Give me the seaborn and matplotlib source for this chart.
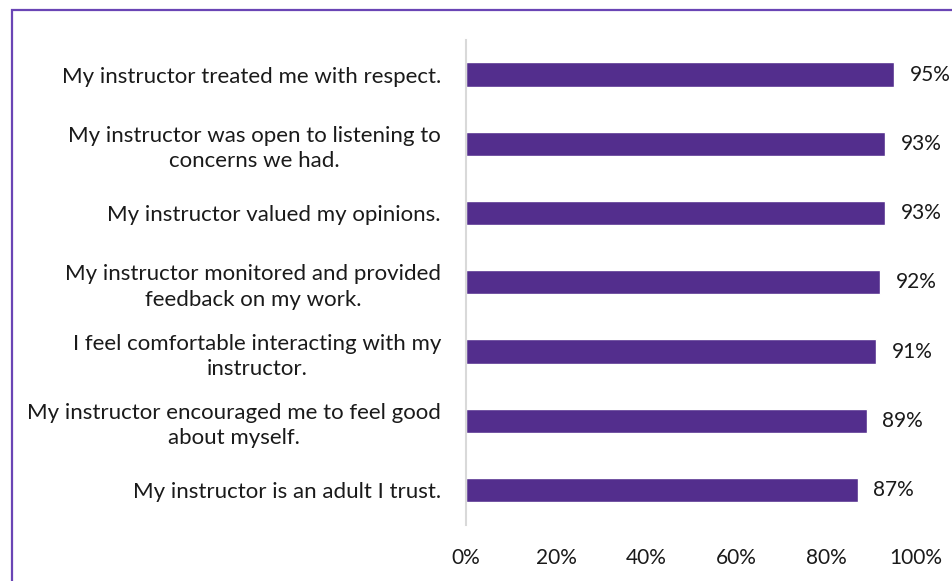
import matplotlib
matplotlib.use("Agg")
import matplotlib.pyplot as plt
import seaborn as sns
import pandas as pd
from matplotlib.patches import Rectangle
from matplotlib.ticker import PercentFormatter

statements = [
    "My instructor treated me with respect.",
    "My instructor was open to listening to\nconcerns we had.",
    "My instructor valued my opinions.",
    "My instructor monitored and provided\nfeedback on my work.",
    "I feel comfortable interacting with my\ninstructor.",
    "My instructor encouraged me to feel good\nabout myself.",
    "My instructor is an adult I trust.",
]
agree_pct = [95, 93, 93, 92, 91, 89, 87]
x_ticks = [0, 20, 40, 60, 80, 100]

df = pd.DataFrame({"statement": statements, "pct": agree_pct})

sns.set_theme(style="white")
plt.rcParams["font.family"] = ["Lato", "DejaVu Sans"]

fig = plt.figure(figsize=(9.53, 5.81), dpi=100)
ax = fig.add_axes([466 / 953, 1 - 524.6 / 581, 450 / 953, (524.6 - 40) / 581])

bar_color = "#532E8D"
sns.barplot(data=df, y="statement", x="pct", orient="h", color=bar_color,
            width=0.35, ax=ax, saturation=1)

for i, v in enumerate(agree_pct):
    ax.annotate(f"{v}%", xy=(v, i), xytext=(11.5, 0), textcoords="offset points",
                ha="left", va="center", fontsize=15, color="#1a1a1a")

ax.set_xlim(0, 100)
ax.set_ylim(6.5, -0.5)
ax.set_xticks(x_ticks)
ax.xaxis.set_major_formatter(PercentFormatter(decimals=0))
ax.set_xlabel("")
ax.set_ylabel("")
ax.tick_params(axis="both", length=0, colors="#1a1a1a")
ax.tick_params(axis="x", labelsize=15, pad=17)
ax.tick_params(axis="y", labelsize=16, pad=18)
for lbl in ax.get_yticklabels():
    lbl.set_multialignment("center")
    lbl.set_linespacing(1.35)

for side in ["top", "right", "bottom"]:
    ax.spines[side].set_visible(False)
ax.spines["left"].set_color("#d9d9d9")
ax.spines["left"].set_linewidth(1.5)

# purple frame around the chart area
fig.patches.append(Rectangle((12 / 953, -0.2), 1.5, 1.2 - 10 / 581,
                             transform=fig.transFigure, fill=False,
                             edgecolor="#6A45B5", linewidth=1.6))

fig.savefig("out.png", dpi=100)
